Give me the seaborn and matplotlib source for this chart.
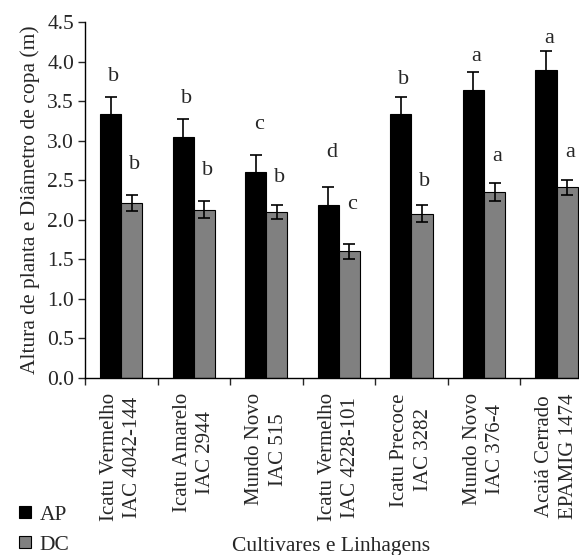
import matplotlib
matplotlib.use("Agg")
import matplotlib.pyplot as plt
from matplotlib.lines import Line2D
import seaborn as sns
import pandas as pd
import numpy as np

cultivares = ["Icatu Vermelho\nIAC 4042-144", "Icatu Amarelo\nIAC 2944", "Mundo Novo\nIAC 515",
              "Icatu Vermelho\nIAC 4228-101", "Icatu Precoce\nIAC 3282", "Mundo Novo\nIAC 376-4",
              "Acaiá Cerrado\nEPAMIG 1474"]
ap = [3.34, 3.05, 2.60, 2.19, 3.34, 3.64, 3.90]
ap_err = [0.21, 0.22, 0.22, 0.23, 0.22, 0.23, 0.23]
dc = [2.21, 2.13, 2.10, 1.60, 2.08, 2.35, 2.41]
dc_err = [0.10, 0.11, 0.09, 0.10, 0.11, 0.11, 0.10]
ap_letras = ["b", "b", "c", "d", "b", "a", "a"]
dc_letras = ["b", "b", "b", "c", "b", "a", "a"]
# altura das letras
ap_letra_y = [3.81, 3.54, 3.20, 2.85, 3.77, 4.06, 4.30]
dc_letra_y = [2.70, 2.63, 2.53, 2.19, 2.48, 2.80, 2.85]

df = pd.DataFrame({
    "cultivar": cultivares * 2,
    "valor": ap + dc,
    "var": ["AP"] * len(ap) + ["DC"] * len(dc),
})

sns.set_style("ticks")
plt.rcParams["font.family"] = ["Liberation Serif", "DejaVu Serif"]
plt.rcParams["font.size"] = 15

fig = plt.figure(figsize=(5.79, 5.55), dpi=100)
ax = fig.add_axes([0.147, 0.319, 0.853, 0.641])

cores = ["#000000", "#808080"]
sns.barplot(data=df, x="cultivar", y="valor", hue="var", palette=cores, width=0.58,
            edgecolor="black", linewidth=0.8, saturation=1, legend=False, ax=ax)

n = len(cultivares)
bars = ax.patches
ap_x = [b.get_x() + b.get_width() / 2 for b in bars[:n]]
dc_x = [b.get_x() + b.get_width() / 2 for b in bars[n:2 * n]]

ax.errorbar(ap_x, ap, yerr=ap_err, fmt="none", ecolor="black", elinewidth=1.2, capsize=4.5, capthick=1.2)
ax.errorbar(dc_x, dc, yerr=dc_err, fmt="none", ecolor="black", elinewidth=1.2, capsize=4.5, capthick=1.2)

for x, y, t in zip(ap_x, ap_letra_y, ap_letras):
    ax.text(x + 0.04, y, t, ha="center", va="center", fontsize=16)
for x, y, t in zip(dc_x, dc_letra_y, dc_letras):
    ax.text(x + 0.04, y, t, ha="center", va="center", fontsize=16)

ax.set_ylim(0, 4.5)
ax.set_yticks(np.arange(0, 4.51, 0.5))
ax.set_yticklabels([f"{v:.1f}" for v in np.arange(0, 4.51, 0.5)], fontsize=15.5)
ax.set_xlim(-0.5, 6.31)

ax.set_xticks(range(n))
ax.set_xticklabels(cultivares, rotation=90, ha="center", va="top", fontsize=15)
for lbl in ax.get_xticklabels():
    lbl.set_multialignment("center")
    lbl.set_linespacing(1.3)
ax.set_xticks(np.arange(-0.5, n - 0.5, 1), minor=True)
ax.tick_params(axis="x", which="major", length=0, pad=11)
ax.tick_params(axis="x", which="minor", length=5, width=1, direction="out")
ax.tick_params(axis="y", length=5, width=1, direction="out", pad=3)

sns.despine(ax=ax)
for s in ["left", "bottom"]:
    ax.spines[s].set_linewidth(1)
    ax.spines[s].set_color("black")

ax.set_ylabel("Altura de planta e Diâmetro de copa (m)", fontsize=15.5, labelpad=5)
ax.set_xlabel("")
fig.text(0.572, 0.007, "Cultivares e Linhagens", ha="center", va="baseline", fontsize=15.5)

handles = [Line2D([], [], marker="s", linestyle="none", markersize=8.5, markerfacecolor=c,
                  markeredgecolor="black", markeredgewidth=0.8) for c in cores]
fig.legend(handles, ["AP", "DC"], loc="lower left", bbox_to_anchor=(0.015, -0.015), frameon=False,
           fontsize=15.5, handlelength=0.7, handletextpad=0.35, labelspacing=0.45, borderaxespad=0.0)

fig.savefig("out.png", dpi=100)
